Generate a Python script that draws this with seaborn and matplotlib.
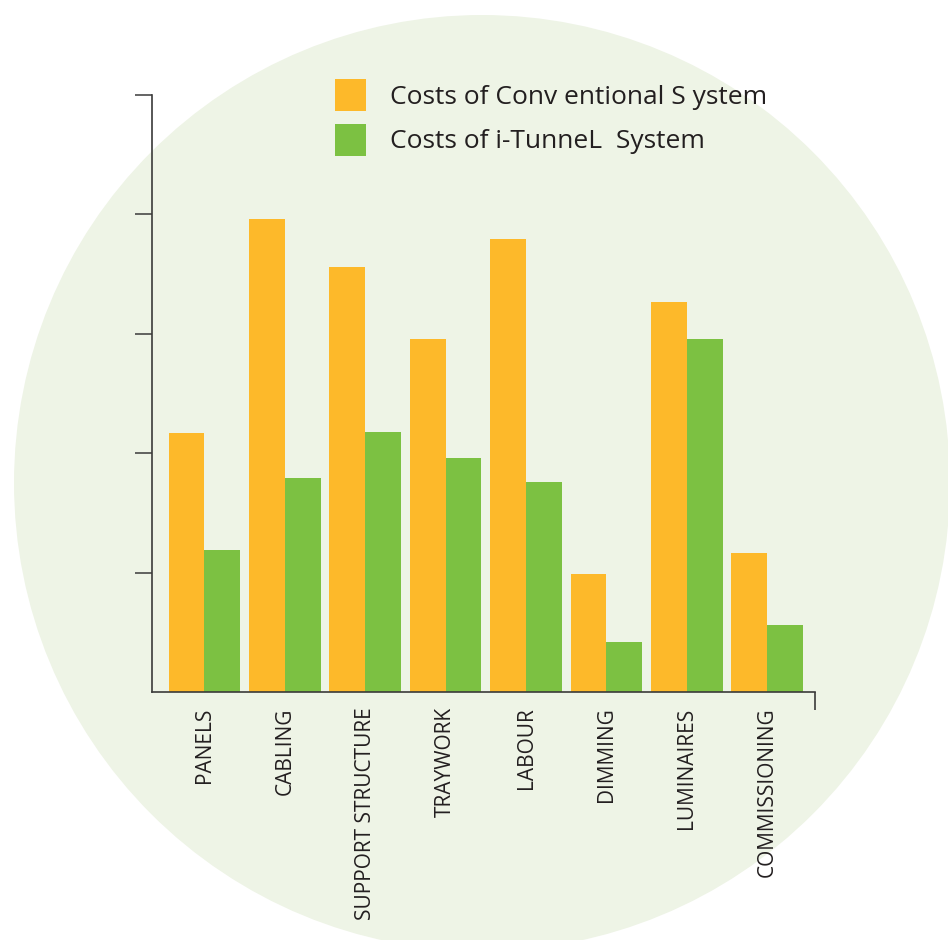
import matplotlib
matplotlib.use("Agg")
import matplotlib.pyplot as plt
from matplotlib.patches import Circle
import seaborn as sns
import pandas as pd

categories = ["PANELS", "CABLING", "SUPPORT STRUCTURE", "TRAYWORK",
              "LABOUR", "DIMMING", "LUMINAIRES", "COMMISSIONING"]
conventional = [2.17, 3.96, 3.56, 2.96, 3.79, 0.99, 3.27, 1.16]
itunnel = [1.19, 1.79, 2.18, 1.96, 1.76, 0.42, 2.96, 0.56]
series_names = ["Costs of Conv entional S ystem", "Costs of i-TunneL  System"]
y_ticks = [1, 2, 3, 4, 5]

df = pd.DataFrame({
    "category": categories * 2,
    "value": conventional + itunnel,
    "series": [series_names[0]] * len(categories) + [series_names[1]] * len(categories),
})

sns.set_theme(style="white")
plt.rcParams["font.family"] = ["Open Sans", "DejaVu Sans"]

ORANGE = "#FDB92A"
GREEN = "#7CC142"
TEXT = "#231F20"
SPINE = "#3A3A3A"

fig = plt.figure(figsize=(9.48, 9.40), dpi=100)
fig.patch.set_facecolor("white")
circ = Circle((4.82, 9.40 - 4.83), 4.68, transform=fig.dpi_scale_trans,
              facecolor="#EEF4E6", edgecolor="none", zorder=0)
fig.add_artist(circ)

ax = fig.add_axes([152 / 948, 1 - 692 / 940, 663 / 948, 597 / 940])
ax.set_facecolor("none")
ax.set_zorder(2)

sns.barplot(data=df, x="category", y="value", hue="series",
            palette=[ORANGE, GREEN], width=0.89, dodge=True,
            saturation=1, ax=ax, edgecolor="none", linewidth=0)

ax.set_xlim(-0.652, 7.594)
ax.set_ylim(0, 5)
ax.set_yticks(y_ticks)
ax.set_yticklabels([])
ax.set_xlabel("")
ax.set_ylabel("")

for s in ["top", "right"]:
    ax.spines[s].set_visible(False)
for s in ["left", "bottom"]:
    ax.spines[s].set_color(SPINE)
    ax.spines[s].set_linewidth(1.2)

ax.tick_params(axis="y", which="both", left=True, direction="out",
               length=12.5, width=1.1, color=SPINE)
ax.tick_params(axis="x", bottom=False, pad=5)
ax.set_xticks(range(len(categories)))
ax.set_xticklabels(categories, rotation=90, fontsize=15, color=TEXT,
                   va="top", ha="center")

# small closing tick at the right end of the x axis
ax.plot([1, 1], [0, -0.03], transform=ax.transAxes, color=SPINE,
        lw=1.2, clip_on=False, solid_capstyle="butt")

leg = ax.legend(loc="upper left", bbox_to_anchor=((335 - 152) / 663, (692 - 79) / 597),
                frameon=False, fontsize=19, handlelength=1.17, handleheight=1.47,
                handletextpad=0.9, labelspacing=0.5, borderpad=0, borderaxespad=0)
for t in leg.get_texts():
    t.set_color(TEXT)

fig.savefig("out.png", dpi=100)
